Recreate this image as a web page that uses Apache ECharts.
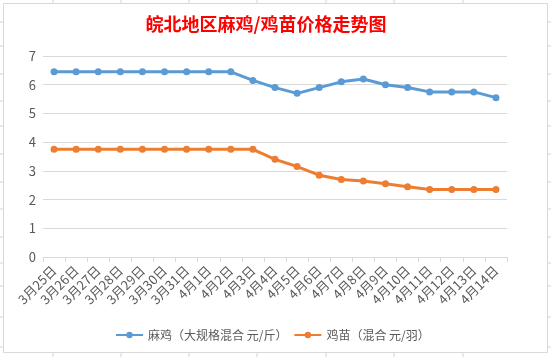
<!DOCTYPE html>
<html>
<head>
<meta charset="utf-8">
<script src="https://cdn.jsdelivr.net/npm/echarts@6/dist/echarts.min.js"></script>
<style>
html,body{margin:0;padding:0;background:#fff;}
#c{width:551px;height:357px;}
</style>
</head>
<body>
<div id="c"></div>
<script>
const titleText = '皖北地区麻鸡/鸡苗价格走势图';
const categories = ['3月25日','3月26日','3月27日','3月28日','3月29日','3月30日','3月31日','4月1日','4月2日','4月3日','4月4日','4月5日','4月6日','4月7日','4月8日','4月9日','4月10日','4月11日','4月12日','4月13日','4月14日'];
const seriesNames = ['麻鸡（大规格混合 元/斤）','鸡苗（混合 元/羽）'];
const majiValues = [6.45,6.45,6.45,6.45,6.45,6.45,6.45,6.45,6.45,6.15,5.9,5.7,5.9,6.1,6.2,6.0,5.9,5.75,5.75,5.75,5.55];
const jimiaoValues = [3.75,3.75,3.75,3.75,3.75,3.75,3.75,3.75,3.75,3.75,3.4,3.15,2.85,2.7,2.65,2.55,2.45,2.35,2.35,2.35,2.35];
const yTicks = [0,1,2,3,4,5,6,7];

const font = '"Noto Sans CJK SC", "Noto Sans", sans-serif';
const bg = [];
const vx = [53,121,189,257,326,394,463];
const hy = [22,46,74,101,126,154,182,209,237,263,286,317,347];
vx.forEach(x => bg.push({type:'line', shape:{x1:x,y1:0,x2:x,y2:357}, style:{stroke:'#d4d4d4',lineWidth:1}, z:-10}));
hy.forEach(y => bg.push({type:'line', shape:{x1:0,y1:y,x2:551,y2:y}, style:{stroke:'#d4d4d4',lineWidth:1}, z:-10}));
bg.push({type:'rect', shape:{x:3.5,y:3.5,width:544,height:349}, style:{fill:'#fff',stroke:'#d9d9d9',lineWidth:1}, z:-5});

const chart = echarts.init(document.getElementById('c'), null, {renderer:'canvas'});
chart.setOption({
  backgroundColor:'#fff',
  animation:false,
  graphic:{elements:bg},
  title:{
    text:titleText, left:261, top:10, textAlign:'center',
    textStyle:{color:'#ff0000', fontSize:18, fontWeight:'bold', fontFamily:font}
  },
  legend:{
    data:seriesNames, left:110, top:324, itemWidth:27, itemHeight:8, itemGap:6,
    textStyle:{color:'#595959', fontSize:12, fontFamily:font}
  },
  grid:{left:43, right:44, top:56, bottom:100, containLabel:false},
  xAxis:{
    type:'category', data:categories, boundaryGap:true,
    axisLine:{lineStyle:{color:'#d9d9d9'}},
    axisTick:{show:true, length:5, lineStyle:{color:'#d9d9d9'}},
    axisLabel:{rotate:45, interval:0, color:'#595959', fontSize:13, margin:11, fontFamily:font}
  },
  yAxis:{
    type:'value', min:yTicks[0], max:yTicks[yTicks.length-1], interval:1,
    axisLine:{show:false}, axisTick:{show:false},
    splitLine:{lineStyle:{color:'#d9d9d9'}},
    axisLabel:{color:'#595959', fontSize:13, margin:7, fontFamily:font}
  },
  series:[
    {name:seriesNames[0], type:'line', data:majiValues, symbol:'circle', symbolSize:7,
     lineStyle:{width:3, color:'#5B9BD5'}, itemStyle:{color:'#5B9BD5'}},
    {name:seriesNames[1], type:'line', data:jimiaoValues, symbol:'circle', symbolSize:7,
     lineStyle:{width:3, color:'#ED7D31'}, itemStyle:{color:'#ED7D31'}}
  ]
});
</script>
</body>
</html>
